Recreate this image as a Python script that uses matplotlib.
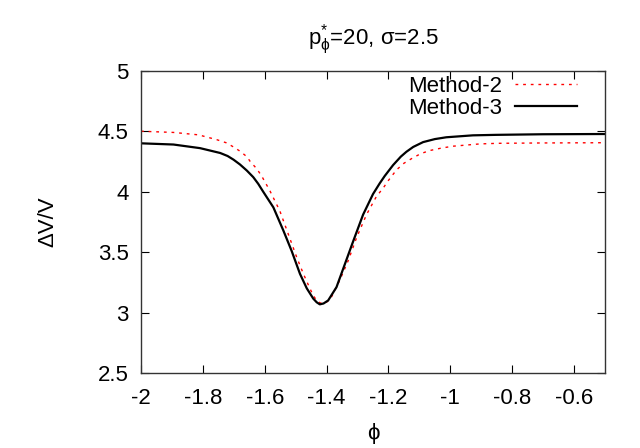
import matplotlib
matplotlib.use('Agg')
import matplotlib.pyplot as plt

# values
phi_m2 = [-2.0, -1.895, -1.814, -1.755, -1.725, -1.701, -1.680, -1.658, -1.647,
          -1.626, -1.610, -1.583, -1.551, -1.524, -1.497, -1.475, -1.454, -1.443,
          -1.432, -1.421, -1.411, -1.398, -1.384, -1.357, -1.330, -1.303, -1.271,
          -1.239, -1.217, -1.201, -1.174, -1.150, -1.121, -1.095, -1.067, -1.03,
          -0.992, -0.905, -0.846, -0.7, -0.5]
dv_m2 = [4.50, 4.49, 4.47, 4.43, 4.405, 4.37, 4.335, 4.29, 4.25,
         4.19, 4.13, 4.006, 3.84, 3.65, 3.46, 3.32, 3.20, 3.14,
         3.10, 3.08, 3.074, 3.09, 3.13, 3.27, 3.43, 3.62, 3.81,
         3.96, 4.03, 4.09, 4.18, 4.235, 4.28, 4.315, 4.34, 4.36,
         4.376, 4.395, 4.40, 4.403, 4.405]

phi_m3 = [-2.0, -1.895, -1.809, -1.744, -1.72, -1.701, -1.680, -1.658, -1.637,
          -1.621, -1.605, -1.572, -1.540, -1.513, -1.486, -1.464, -1.443, -1.432,
          -1.422, -1.41, -1.395, -1.368, -1.341, -1.314, -1.282, -1.25, -1.228,
          -1.212, -1.185, -1.16, -1.142, -1.12, -1.088, -1.05, -1.013, -0.927,
          -0.852, -0.7, -0.5]
dv_m3 = [4.40, 4.39, 4.36, 4.32, 4.295, 4.265, 4.225, 4.175, 4.12,
         4.065, 4.00, 3.87, 3.68, 3.51, 3.32, 3.20, 3.115, 3.085,
         3.068, 3.075, 3.10, 3.21, 3.40, 3.59, 3.81, 3.98, 4.07,
         4.13, 4.22, 4.29, 4.33, 4.37, 4.41, 4.435, 4.45, 4.466,
         4.47, 4.475, 4.477]

xticks = [-2, -1.8, -1.6, -1.4, -1.2, -1, -0.8, -0.6]
yticks = [2.5, 3, 3.5, 4, 4.5, 5]

plt.rcParams['font.family'] = ['Liberation Sans', 'DejaVu Sans']
plt.rcParams['mathtext.fontset'] = 'custom'
plt.rcParams['mathtext.rm'] = 'Liberation Sans'
plt.rcParams['mathtext.it'] = 'Liberation Sans'

fig = plt.figure(figsize=(6.4, 4.48), dpi=100)
ax = fig.add_axes([0.2203, 0.1674, 0.7250, 0.6746])

ax.plot(phi_m2, dv_m2, color='red', lw=1.0, dashes=(2, 3.5), label='Method-2')
ax.plot(phi_m3, dv_m3, color='black', lw=1.6, label='Method-3')

ax.set_xlim(-2, -0.5)
ax.set_ylim(2.5, 5)
ax.set_xticks(xticks)
ax.set_xticklabels([f'{t:g}' for t in xticks])
ax.set_yticks(yticks)
ax.set_yticklabels([f'{t:g}' for t in yticks])
ax.tick_params(direction='in', length=6, width=0.8, top=True, right=True,
               labelsize=16, colors='black')
ax.tick_params(axis='x', pad=11)
ax.tick_params(axis='y', pad=9)
for s in ax.spines.values():
    s.set_linewidth(1.0)
    s.set_color('#333333')

ax.set_xlabel('\u03d5', fontsize=16, labelpad=10)
ax.set_ylabel('\u0394V/V', fontsize=16, labelpad=28)
ax.set_title(r'p$^{*}_{\phi}$=20, $\sigma$=2.5', fontsize=16, pad=19)

ax.legend(loc='upper right', bbox_to_anchor=(0.945, 0.99), markerfirst=False,
          frameon=False, fontsize=16, handlelength=2.8, labelspacing=0.05,
          borderaxespad=0, borderpad=0.1, handletextpad=0.6)

fig.savefig('out.png', dpi=100)
